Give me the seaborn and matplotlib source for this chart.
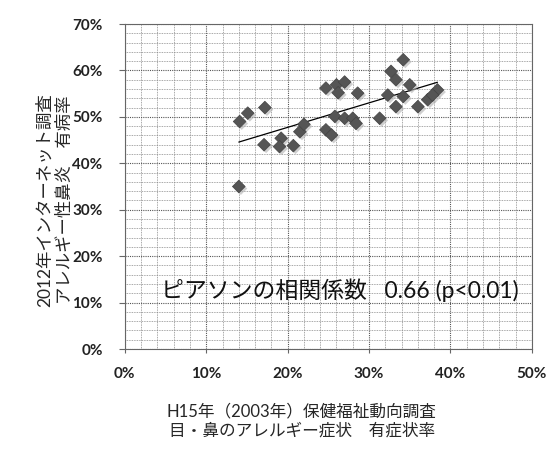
import numpy as np
import pandas as pd
import matplotlib
matplotlib.use("Agg")
import matplotlib.pyplot as plt
import matplotlib.patheffects as pe
from matplotlib.ticker import MultipleLocator, PercentFormatter
import seaborn as sns

# H15 (2003) symptom rate by prefecture vs. 2012 internet survey prevalence
symptom_rate_2003 = [
    0.140, 0.141, 0.151, 0.172, 0.171, 0.192, 0.190, 0.207, 0.215, 0.220,
    0.247, 0.260, 0.270, 0.262, 0.286, 0.258, 0.247, 0.254, 0.270, 0.280,
    0.284, 0.313, 0.342, 0.327, 0.333, 0.350, 0.323, 0.342, 0.333, 0.360,
    0.372, 0.384, 0.378,
]
prevalence_2012 = [
    0.350, 0.490, 0.508, 0.520, 0.440, 0.454, 0.436, 0.438, 0.468, 0.484,
    0.562, 0.569, 0.575, 0.552, 0.551, 0.501, 0.472, 0.461, 0.497, 0.497,
    0.486, 0.497, 0.623, 0.598, 0.580, 0.569, 0.547, 0.544, 0.522, 0.522,
    0.537, 0.558, 0.547,
]

df = pd.DataFrame({"x": symptom_rate_2003, "y": prevalence_2012})

sns.set_theme(style="white")
plt.rcParams["font.family"] = ["Lato", "Noto Sans CJK JP", "DejaVu Sans"]

fig = plt.figure(figsize=(5.5, 4.49), dpi=100)
ax = fig.add_axes([0.227, 0.2227, 0.740, 0.7238])

sns.scatterplot(data=df, x="x", y="y", marker="D", s=42, color="#555555",
                edgecolor="#444444", linewidth=0.5, ax=ax, zorder=3)
for coll in ax.collections:
    coll.set_path_effects([pe.SimplePatchShadow(offset=(1.5, -1.5),
                                                shadow_rgbFace="#b0b0b0",
                                                alpha=0.6),
                           pe.Normal()])

sns.regplot(data=df, x="x", y="y", scatter=False, ci=None, truncate=True,
            line_kws={"color": "black", "lw": 0.9}, ax=ax)

ax.set_xlim(0, 0.5)
ax.set_ylim(0, 0.7)
ax.xaxis.set_major_locator(MultipleLocator(0.1))
ax.xaxis.set_minor_locator(MultipleLocator(0.02))
ax.yaxis.set_major_locator(MultipleLocator(0.1))
ax.yaxis.set_minor_locator(MultipleLocator(0.02))
ax.xaxis.set_major_formatter(PercentFormatter(1.0, decimals=0))
ax.yaxis.set_major_formatter(PercentFormatter(1.0, decimals=0))

ax.grid(which="major", color="#555555", linestyle=(0, (1, 1)), linewidth=0.8)
ax.grid(which="minor", color="#8a8a8a", linestyle=(0, (1, 1)), linewidth=0.6)
ax.set_axisbelow(True)

for side, sp in ax.spines.items():
    sp.set_visible(True)
    sp.set_color("#666666")
    sp.set_linestyle((0, (1, 1)))
    sp.set_linewidth(0.8)

ax.tick_params(axis="y", which="major", left=True, length=4, width=0.8,
               color="#666666", pad=12, labelsize=11)
ax.tick_params(axis="x", which="major", bottom=True, length=3, width=0.8,
               color="#666666", pad=10, labelsize=11)
ax.tick_params(which="minor", length=0)
for lab in ax.get_xticklabels() + ax.get_yticklabels():
    lab.set_fontweight("bold")
    lab.set_color("#222222")

ax.set_xlabel("H15年（2003年）保健福祉動向調査\n目・鼻のアレルギー症状　有症状率",
              fontsize=12, linespacing=1.25)
ax.xaxis.set_label_coords(0.435, -0.166)
ax.set_ylabel("2012年インターネット調査\nアレルギー性鼻炎　有病率",
              fontsize=12.5, linespacing=1.3)
ax.yaxis.set_label_coords(-0.128, 0.458)

ax.text(0.045, 0.127, "ピアソンの相関係数   0.66 (p<0.01)", fontsize=16.5,
        va="center", ha="left", color="#111111")

fig.savefig("out.png", dpi=100)
